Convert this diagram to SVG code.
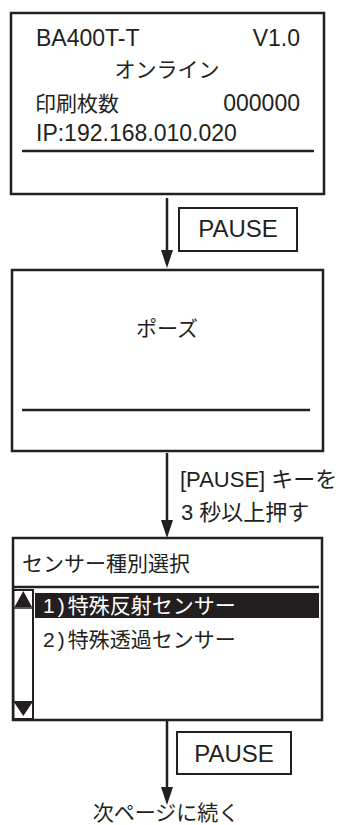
<svg xmlns="http://www.w3.org/2000/svg" width="359" height="825" viewBox="0 0 359 825">
  <style>
    .t { font-family: "Liberation Sans", "Noto Sans CJK JP", sans-serif; fill: #231f20; }
    .w { fill: #fff; }
    .box { fill: #fff; stroke: #231f20; stroke-width: 2.5; }
    .key { fill: #fff; stroke: #231f20; stroke-width: 2; }
    .rule { stroke: #231f20; stroke-width: 2.5; fill: none; }
    .conn { stroke: #231f20; stroke-width: 2.5; fill: none; marker-end: url(#ah); }
  </style>
  <defs>
    <marker id="ah" viewBox="0 0 18 12" refX="10" refY="6" markerWidth="18" markerHeight="12" markerUnits="userSpaceOnUse" orient="auto">
      <path d="M0,0 L18,6 L0,12 z" fill="#231f20"/>
    </marker>
  </defs>
  <rect width="359" height="825" fill="#fff"/>

  <g id="online-screen">
    <rect class="box" x="11" y="13" width="313" height="181"/>
    <text class="t" x="36" y="46" font-size="23">BA400T-T</text>
    <text class="t" x="300" y="46" font-size="23" text-anchor="end">V1.0</text>
    <text class="t" x="167" y="77" font-size="21" text-anchor="middle">オンライン</text>
    <text class="t" x="35" y="111" font-size="21">印刷枚数</text>
    <text class="t" x="300" y="111" font-size="23" text-anchor="end">000000</text>
    <text class="t" x="36" y="141" font-size="23">IP:192.168.010.020</text>
    <line class="rule" x1="22" y1="151" x2="314" y2="151"/>
  </g>

  <g id="pause-screen">
    <rect class="box" x="12" y="270" width="311" height="181"/>
    <text class="t" x="167" y="336" font-size="21" text-anchor="middle">ポーズ</text>
    <line class="rule" x1="22" y1="410" x2="310" y2="410"/>
  </g>

  <g id="sensor-screen">
    <rect class="box" x="13" y="538" width="309" height="182"/>
    <text class="t" x="22" y="571" font-size="21">センサー種別選択</text>
    <line class="rule" x1="13" y1="587" x2="319" y2="587"/>
    <rect x="13.5" y="590" width="19.5" height="129" fill="#fff" stroke="#231f20" stroke-width="2"/>
    <path d="M14.5,607 L23.3,591 L32,607 z" fill="#231f20"/>
    <line x1="13.5" y1="608" x2="33" y2="608" stroke="#231f20" stroke-width="1.5"/>
    <line x1="13.5" y1="702" x2="33" y2="702" stroke="#231f20" stroke-width="2"/>
    <path d="M14.5,703 L32,703 L23.3,716 z" fill="#231f20"/>
    <rect x="35" y="593" width="284" height="25" fill="#231f20"/>
    <text class="t w" x="43" y="613" font-size="21">1<tspan dx="3">)</tspan><tspan dx="3">特殊反射センサー</tspan></text>
    <text class="t" x="43" y="647" font-size="21">2<tspan dx="3">)</tspan><tspan dx="3">特殊透過センサー</tspan></text>
  </g>

  <g id="key-pause-1">
    <rect class="key" x="179" y="208" width="118" height="43"/>
    <text class="t" x="238" y="237" font-size="24" text-anchor="middle">PAUSE</text>
  </g>

  <g id="key-pause-2">
    <rect class="key" x="177" y="732" width="114" height="42"/>
    <text class="t" x="234" y="762" font-size="24" text-anchor="middle">PAUSE</text>
  </g>

  <g id="hold-label">
    <text class="t" x="180" y="487" font-size="22">[PAUSE] キーを</text>
    <text class="t" x="181" y="520" font-size="22">3 秒以上押す</text>
  </g>

  <g id="next-page">
    <text class="t" x="166" y="820" font-size="21" text-anchor="middle">次ページに続く</text>
  </g>

  <g id="connectors">
    <line class="conn" x1="167" y1="198" x2="167" y2="260"/>
    <line class="conn" x1="167" y1="453" x2="167" y2="530"/>
    <line class="conn" x1="167" y1="721" x2="167" y2="797"/>
  </g>
</svg>
